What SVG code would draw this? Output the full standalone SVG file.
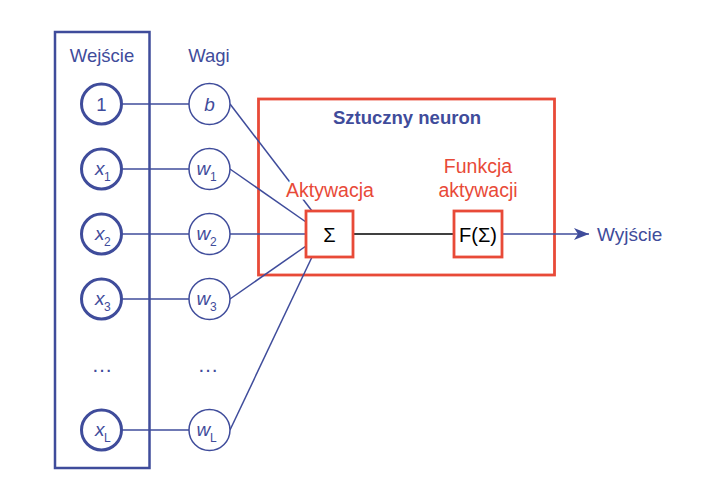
<svg xmlns="http://www.w3.org/2000/svg" width="714" height="480" viewBox="0 0 714 480">
<style>
text{font-family:"Liberation Sans",Arial,sans-serif;}
.blue{fill:#3f4c9b;}
.red{fill:#e84a38;}
.lbl{font-size:18.5px;text-anchor:middle;}
.dots{font-size:21px;text-anchor:middle;fill:#3f4c9b;}
.in{fill:#fff;stroke:#3f4c9b;stroke-width:3;}
.wt{fill:#fff;stroke:#3f4c9b;stroke-width:1.5;}
.con{stroke:#3f4c9b;stroke-width:1.5;fill:none;}
.rbox{fill:#fff;stroke:#e84a38;stroke-width:2.8;}
.var{font-size:19px;font-style:italic;fill:#3f4c9b;}
.sub{font-size:12px;fill:#3f4c9b;}
.knock{paint-order:stroke;stroke:#fff;stroke-width:5;}
.math{font-size:20px;text-anchor:middle;fill:#000;}
</style>
<defs>
<marker id="arr" markerWidth="16" markerHeight="12" refX="15" refY="6" orient="auto" markerUnits="userSpaceOnUse">
<path d="M0,0 L15,6 L0,12 L4,6 Z" fill="#3f4c9b"/>
</marker>
</defs>

<g id="neuron-box">
<rect class="rbox" x="258.5" y="99" width="296" height="176"/>
<text class="blue lbl" x="407" y="124" style="font-weight:bold;font-size:18.5px">Sztuczny neuron</text>
</g>

<g id="input-box">
<rect x="55" y="32" width="94.5" height="436" fill="none" stroke="#3f4c9b" stroke-width="2.5"/>
<text class="blue lbl" x="102" y="62">Wejście</text>
</g>

<g id="connectors">
<line class="con" x1="122" y1="104" x2="189" y2="104"/>
<line class="con" x1="122" y1="169" x2="189" y2="169"/>
<line class="con" x1="122" y1="234" x2="189" y2="234"/>
<line class="con" x1="122" y1="299" x2="189" y2="299"/>
<line class="con" x1="122" y1="430" x2="189" y2="430"/>
<line class="con" x1="230" y1="104" x2="312" y2="211"/>
<line class="con" x1="230" y1="169" x2="306" y2="222"/>
<line class="con" x1="230" y1="234" x2="306" y2="234"/>
<line class="con" x1="230" y1="299" x2="306" y2="246"/>
<line class="con" x1="230" y1="430" x2="312" y2="257"/>
<line x1="353" y1="234" x2="454" y2="234" stroke="#000" stroke-width="1.5"/>
<line class="con" x1="502" y1="234" x2="589" y2="234" marker-end="url(#arr)"/>
</g>

<g id="wagi-header">
<text class="blue lbl" x="209" y="62">Wagi</text>
</g>

<g id="in-1"><circle class="in" cx="101.5" cy="104" r="20"/><text class="blue lbl" x="101.5" y="110.5">1</text></g>
<g id="in-x1"><circle class="in" cx="101.5" cy="169" r="20"/><text x="95" y="175" class="var">x</text><text x="104" y="181" class="sub">1</text></g>
<g id="in-x2"><circle class="in" cx="101.5" cy="234" r="20"/><text x="95" y="240" class="var">x</text><text x="104" y="246" class="sub">2</text></g>
<g id="in-x3"><circle class="in" cx="101.5" cy="299" r="20"/><text x="95" y="305" class="var">x</text><text x="104" y="311" class="sub">3</text></g>
<g id="in-dots"><text class="dots" x="102" y="372">…</text></g>
<g id="in-xL"><circle class="in" cx="101.5" cy="430" r="20"/><text x="95" y="436" class="var">x</text><text x="104" y="442" class="sub">L</text></g>

<g id="w-b"><circle class="wt" cx="209.5" cy="104" r="20.5"/><text class="var" x="209.5" y="110.5" text-anchor="middle">b</text></g>
<g id="w-1"><circle class="wt" cx="209.5" cy="169" r="20.5"/><text x="196.5" y="175" class="var">w</text><text x="210" y="181" class="sub">1</text></g>
<g id="w-2"><circle class="wt" cx="209.5" cy="234" r="20.5"/><text x="196.5" y="240" class="var">w</text><text x="210" y="246" class="sub">2</text></g>
<g id="w-3"><circle class="wt" cx="209.5" cy="299" r="20.5"/><text x="196.5" y="305" class="var">w</text><text x="210" y="311" class="sub">3</text></g>
<g id="w-dots"><text class="dots" x="208" y="372">…</text></g>
<g id="w-L"><circle class="wt" cx="209.5" cy="430" r="20.5"/><text x="196.5" y="436" class="var">w</text><text x="210" y="442" class="sub">L</text></g>

<g id="sum">
<text class="red lbl knock" x="330" y="197" style="font-size:19.5px">Aktywacja</text>
<rect class="rbox" x="306" y="211" width="47" height="46"/>
<text class="math" x="329.5" y="241.5">Σ</text>
</g>

<g id="activation">
<text class="red lbl" x="478" y="173" style="font-size:19.5px">Funkcja</text>
<text class="red lbl" x="478" y="196.5" style="font-size:19.5px">aktywacji</text>
<rect class="rbox" x="454" y="211" width="48" height="46"/>
<text class="math" x="478" y="241.5">F(Σ)</text>
</g>

<g id="output">
<text class="blue" x="597" y="240.5" style="font-size:19px">Wyjście</text>
</g>
</svg>
